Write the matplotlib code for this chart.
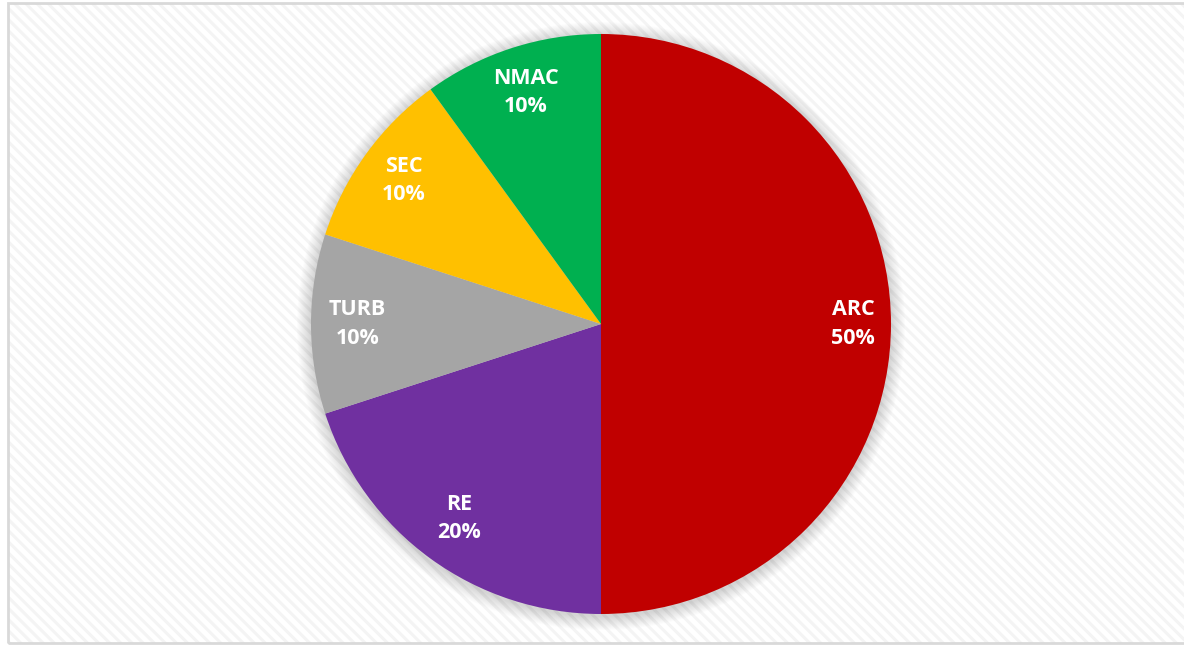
import numpy as np
import matplotlib.pyplot as plt
from matplotlib.patches import Rectangle, Circle

labels = ["ARC", "RE", "TURB", "SEC", "NMAC"]
shares = [50, 20, 10, 10, 10]
colors = ["#C00000", "#7030A0", "#A5A5A5", "#FFC000", "#00B050"]

plt.rcParams['hatch.linewidth'] = 2.2

fig = plt.figure(figsize=(11.84, 6.46), dpi=100)
ax = fig.add_axes([0, 0, 1, 1])

# chart area with faint diagonal texture and border
ax.add_patch(Rectangle((8, 3), 1190, 640, facecolor='white', edgecolor='none', zorder=0))
ax.add_patch(Rectangle((8, 3), 1190, 640, facecolor='none', edgecolor='#F4F4F4', hatch='\\\\\\', lw=0, zorder=0.5))
ax.add_patch(Rectangle((8, 3), 1190, 640, facecolor='none', edgecolor='#D9D9D9', lw=2, zorder=1))

cx, cy, r = 601, 322, 290

# soft shadow around the pie
for i in range(14):
    ax.add_patch(Circle((cx, cy - 2), r + 14 - i, facecolor='black', edgecolor='none', alpha=0.012, zorder=2))

wedges, texts = ax.pie(shares, colors=colors, startangle=90, counterclock=False,
                       center=(cx, cy), radius=r, frame=True,
                       wedgeprops=dict(linewidth=0, zorder=3))
ax.set_xlim(0, 1184)
ax.set_ylim(0, 646)
ax.set_aspect('equal')
ax.axis('off')

total = sum(shares)
start = 90
dists = [0.87, 0.83, 0.84, 0.84, 0.84]
for lab, val, d in zip(labels, shares, dists):
    mid = np.deg2rad(start - val / total * 360 / 2)
    start -= val / total * 360
    x = cx + d * r * np.cos(mid)
    y = cy + d * r * np.sin(mid)
    ax.text(x, y, f"{lab}\n{val}%", ha='center', va='center', color='white',
            fontsize=15.5, fontweight='bold', family=['Open Sans', 'DejaVu Sans'],
            linespacing=1.45, zorder=5)

fig.savefig("out.png", dpi=100)
